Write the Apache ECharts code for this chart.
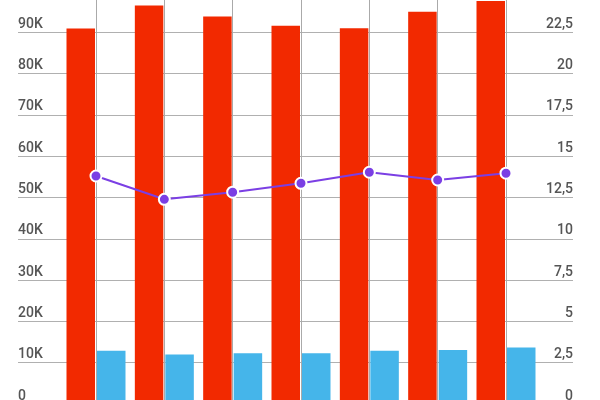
<!DOCTYPE html>
<html>
<head>
<meta charset="utf-8">
<script src="https://cdn.jsdelivr.net/npm/echarts@6/dist/echarts.min.js"></script>
<style>html,body{margin:0;padding:0;background:#fff}#c{width:600px;height:400px}</style>
</head>
<body>
<div id="c"></div>
<script>
var categories = ['1', '2', '3', '4', '5', '6', '7'];
var redValues = [90950, 96500, 93800, 91600, 91000, 95000, 97600];
var blueValues = [12900, 12000, 12300, 12300, 12900, 13100, 13700];
var lineValues = [13.8, 12.39, 12.82, 13.36, 14.03, 13.56, 13.97];
var leftTicks = { min: 0, max: 100000, interval: 10000 };
var rightTicks = { min: 0, max: 25, interval: 2.5 };

var labelStyle = {
  inside: true, margin: 0, verticalAlign: 'bottom', padding: [0, 0, 1, 0],
  color: '#555555', fontFamily: 'Roboto', fontSize: 14, fontWeight: 500
};
var chart = echarts.init(document.getElementById('c'), null, { renderer: 'canvas' });
chart.setOption({
  animation: false,
  grid: [
    { left: 18, width: 555, top: -9, height: 413, containLabel: false, outerBoundsMode: 'none' },
    { left: 96, width: 410, top: -9, height: 413, containLabel: false, outerBoundsMode: 'none' }
  ],
  xAxis: [
    { gridIndex: 0, type: 'category', data: categories, show: false },
    { gridIndex: 1, type: 'category', data: categories, boundaryGap: false,
      axisLine: { show: false }, axisTick: { show: false }, axisLabel: { show: false },
      splitLine: { show: true, lineStyle: { color: '#aaaaaa', width: 1 } } }
  ],
  yAxis: [
    { gridIndex: 0, type: 'value', position: 'left', min: leftTicks.min, max: leftTicks.max, interval: leftTicks.interval,
      axisLine: { show: false }, axisTick: { show: false },
      splitLine: { show: true, lineStyle: { color: '#b0b0b0', width: 1 } },
      axisLabel: Object.assign({}, labelStyle, { align: 'left',
        formatter: function (v) { return v === 0 ? '0' : (v / 1000) + 'K'; } }) },
    { gridIndex: 0, type: 'value', position: 'right', min: rightTicks.min, max: rightTicks.max, interval: rightTicks.interval,
      axisLine: { show: false }, axisTick: { show: false }, splitLine: { show: false },
      axisLabel: Object.assign({}, labelStyle, { align: 'right',
        formatter: function (v) { return String(v).replace('.', ','); } }) },
    { gridIndex: 1, type: 'value', position: 'left', min: leftTicks.min, max: leftTicks.max, show: false, splitLine: { show: false } },
    { gridIndex: 1, type: 'value', position: 'right', min: rightTicks.min, max: rightTicks.max, show: false, splitLine: { show: false } }
  ],
  series: [
    { type: 'bar', xAxisIndex: 1, yAxisIndex: 2, data: redValues, barWidth: 28.5, barGap: '7%', clip: false,
      itemStyle: { color: '#f22900' } },
    { type: 'bar', xAxisIndex: 1, yAxisIndex: 2, data: blueValues, barWidth: 28.5, barGap: '7%', clip: false,
      itemStyle: { color: '#45b5ea' } },
    { type: 'line', xAxisIndex: 1, yAxisIndex: 3, data: lineValues, clip: false, z: 5,
      symbol: 'circle', symbolSize: 11, showAllSymbol: true,
      lineStyle: { color: '#7b3fe4', width: 2 },
      itemStyle: { color: '#7b3fe4', borderColor: '#ffffff', borderWidth: 2 } }
  ]
});
</script>
</body>
</html>
